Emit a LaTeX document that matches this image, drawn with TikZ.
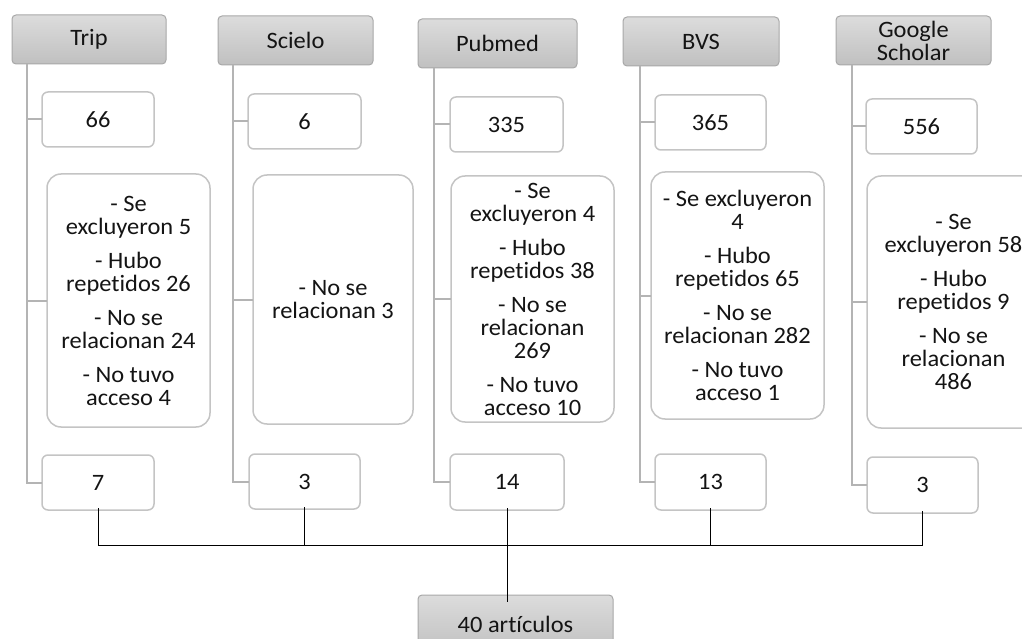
\documentclass[tikz,border=0pt]{standalone}
\usepackage{fontspec}
\setmainfont{Carlito}[FakeStretch=1.04, Ligatures=NoCommon]
\usepackage{tikz}

\definecolor{headtop}{HTML}{DCDCDC}
\definecolor{headbot}{HTML}{C0C0C0}
\definecolor{headline}{HTML}{A8A8A8}
\definecolor{boxline}{HTML}{C4C4C4}
\definecolor{linkgray}{HTML}{B4B4B4}
\definecolor{ink}{HTML}{141414}

\begin{document}
\begin{tikzpicture}[x=1pt, y=-1pt, node distance=0 cm, outer sep = 0pt]

\tikzstyle{every node}=[text=ink, font=\fontsize{23.5}{23}\selectfont, align=center, inner sep=0pt, anchor=north west]
\tikzstyle{source}=[draw=headline, line width=1pt, rounded corners=4pt, top color=headtop, bottom color=headbot, minimum height=49pt]
\tikzstyle{count}=[draw=boxline, line width=1.5pt, rounded corners=6pt, fill=white, minimum height=55pt]
\tikzstyle{detail}=[draw=boxline, line width=1.5pt, rounded corners=14pt, fill=white]
\tikzstyle{link}=[draw=linkgray, line width=2pt]
\tikzstyle{joinline}=[draw=black, line width=0.8pt]

\useasboundingbox (0,0) rectangle (1022,639);

% bases de datos
\node[source, minimum width=154pt] (trip) at (12,15) {Trip}; \node[source, minimum width=155pt] (scielo) at (218,16) {Scielo};
\node[source, minimum width=159pt] (pubmed) at (418,19) {Pubmed}; \node[source, minimum width=156pt] (bvs) at (623,17) {BVS};
\node[source, minimum width=155pt] (gscholar) at (836,16) {Google\\Scholar};

% encontrados
\node[count, minimum width=112pt] (tripA) at (42,92) {66}; \node[count, minimum width=113pt] (scieloA) at (248,94) {6};
\node[count, minimum width=113pt] (pubmedA) at (450,97) {335}; \node[count, minimum width=111pt] (bvsA) at (655,95) {365};
\node[count, minimum width=111pt] (gscholarA) at (866,99) {556};

% descartados
\node[detail, minimum width=163pt, minimum height=253pt] (tripB) at (47,174) {- Se\\excluyeron 5\\[11pt]- Hubo\\repetidos 26\\[11pt]- No se\\relacionan 24\\[11pt]- No tuvo\\acceso 4};
\node[detail, minimum width=160pt, minimum height=249pt] (scieloB) at (253,175) {- No se\\relacionan 3};
\node[detail, minimum width=163pt, minimum height=246pt] (pubmedB) at (451,176) {- Se\\excluyeron 4\\[11pt]- Hubo\\repetidos 38\\[11pt]- No se\\relacionan\\269\\[11pt]- No tuvo\\acceso 10};
\node[detail, minimum width=173pt, minimum height=247pt] (bvsB) at (651,172) {- Se excluyeron\\4\\[11pt]- Hubo\\repetidos 65\\[11pt]- No se\\relacionan 282\\[11pt]- No tuvo\\acceso 1};
\node[detail, minimum width=173pt, minimum height=252pt] (gscholarB) at (867,176) {- Se\\excluyeron 58\\[11pt]- Hubo\\repetidos 9\\[11pt]- No se\\relacionan\\486};

% seleccionados
\node[count, minimum width=112pt] (tripC) at (42,455) {7}; \node[count, minimum width=111pt] (scieloC) at (249,454) {3};
\node[count, minimum width=114pt, minimum height=56pt] (pubmedC) at (450,454) {14}; \node[count, minimum width=111pt, minimum height=56pt] (bvsC) at (655,454) {13};
\node[count, minimum width=111pt, minimum height=56pt] (gscholarC) at (867,457) {3};

\node[source, minimum width=195pt, minimum height=58pt] (total) at (418,595) {40 artículos};

% ramas
\draw[link] ([xshift=15pt]trip.south west) |- (tripA.west); \draw[link] ([xshift=15pt]trip.south west) |- (tripB.west); \draw[link] ([xshift=15pt]trip.south west) |- (tripC.west);
\draw[link] ([xshift=15pt]scielo.south west) |- (scieloA.west); \draw[link] ([xshift=15pt]scielo.south west) |- (scieloB.west); \draw[link] ([xshift=15pt]scielo.south west) |- (scieloC.west);
\draw[link] ([xshift=16pt]pubmed.south west) |- (pubmedA.west); \draw[link] ([xshift=16pt]pubmed.south west) |- (pubmedB.west); \draw[link] ([xshift=16pt]pubmed.south west) |- (pubmedC.west);
\draw[link] ([xshift=17pt]bvs.south west) |- (bvsA.west); \draw[link] ([xshift=17pt]bvs.south west) |- (bvsB.west); \draw[link] ([xshift=17pt]bvs.south west) |- (bvsC.west);
\draw[link] ([xshift=16pt]gscholar.south west) |- (gscholarA.west); \draw[link] ([xshift=16pt]gscholar.south west) |- (gscholarB.west); \draw[link] ([xshift=16pt]gscholar.south west) |- (gscholarC.west);

% union
\coordinate (bus) at (507,545);
\draw[joinline] ([yshift=2pt]tripC.south) -- (tripC.south |- bus) -- (gscholarC.south |- bus) -- ([yshift=2pt]gscholarC.south);
\draw[joinline] ([yshift=2pt]scieloC.south) -- (scieloC.south |- bus); \draw[joinline] ([yshift=2pt]pubmedC.south) -- (pubmedC.south |- bus);
\draw[joinline] ([yshift=2pt]bvsC.south) -- (bvsC.south |- bus);
\draw[joinline] (bus) -- ([yshift=-7pt]bus |- total.north);

\end{tikzpicture}
\end{document}
